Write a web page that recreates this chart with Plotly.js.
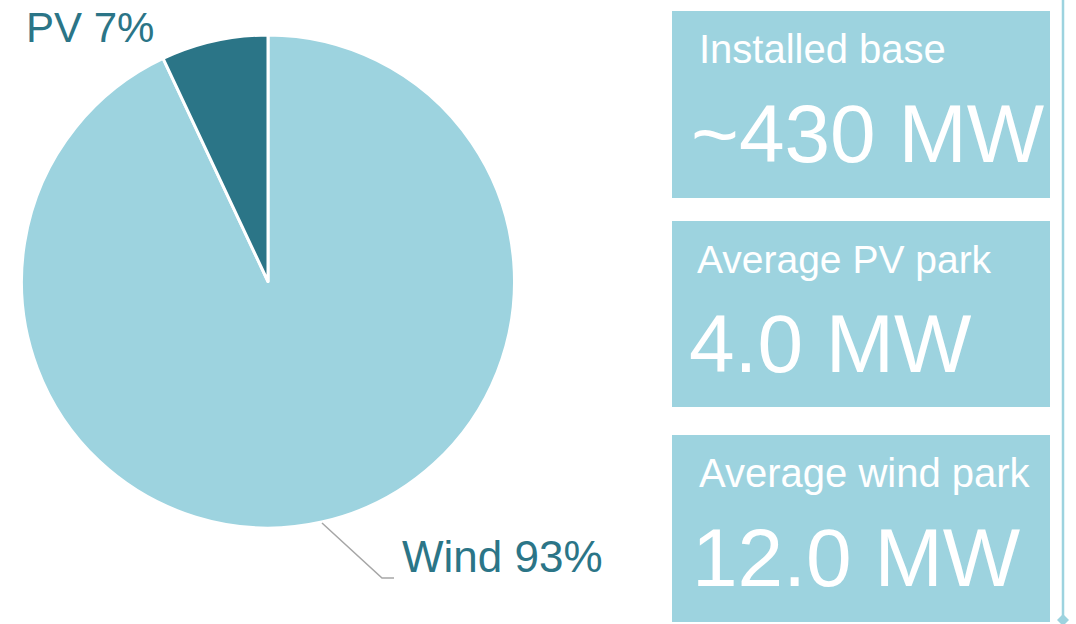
<!DOCTYPE html>
<html>
<head>
<meta charset="utf-8">
<script src="https://cdn.plot.ly/plotly-3.0.1.min.js"></script>
<style>html,body{margin:0;padding:0;background:#fff;}#chart{width:1076px;height:624px;}</style>
</head>
<body>
<div id="chart"></div>
<script>
// Data
var sliceLabels = ["Wind", "PV"];
var sliceValues = [93, 7];
var sliceColors = ["#9DD3DF", "#2B7587"];
var kpiTitles = ["Installed base", "Average PV park", "Average wind park"];
var kpiValues = ["~430 MW", "4.0 MW", "12.0 MW"];

var W = 1076, H = 624;
function px(x){ return x / W; }
function py(y){ return 1 - y / H; }

var FONT = "Liberation Sans, Arial, sans-serif";
var LIGHT = "#9DD3DF";
var DARK = "#2B7587";

var pie = {
  type: "pie",
  labels: sliceLabels,
  values: sliceValues,
  sort: false,
  direction: "clockwise",
  rotation: 0,
  textinfo: "none",
  hoverinfo: "label+percent",
  marker: { colors: sliceColors, line: { color: "#ffffff", width: 3 } },
  domain: { x: [px(21), px(515)], y: [py(528), py(35)] },
  showlegend: false
};

var shapes = [];
var annotations = [];

// slice labels
annotations.push({
  xref: "paper", yref: "paper", x: px(24), y: py(28), xanchor: "left", yanchor: "middle",
  text: sliceLabels[1] + " " + sliceValues[1] + "%", showarrow: false,
  font: { family: FONT, size: 42, color: DARK }
});
annotations.push({
  xref: "paper", yref: "paper", x: px(400), y: py(556), xanchor: "left", yanchor: "middle",
  text: sliceLabels[0] + " " + sliceValues[0] + "%", showarrow: false,
  font: { family: FONT, size: 44, color: DARK }
});
// leader line
shapes.push({
  type: "path", xref: "paper", yref: "paper",
  path: "M " + px(322) + "," + py(523) + " L " + px(382) + "," + py(578) + " L " + px(394) + "," + py(578),
  line: { color: "#A6A6A6", width: 1.5 }
});

// KPI boxes
var boxTops = [11, 221, 435];
var boxBottoms = [198, 407, 622];
var titleX = [697, 695, 697];
var valueX = [689, 687, 690];
var titleSize = [40, 39, 40];
for (var i = 0; i < kpiTitles.length; i++) {
  shapes.push({
    type: "rect", xref: "paper", yref: "paper",
    x0: px(672), x1: px(1050), y0: py(boxBottoms[i]), y1: py(boxTops[i]),
    fillcolor: LIGHT, line: { width: 0 }, layer: "below"
  });
  annotations.push({
    xref: "paper", yref: "paper", x: px(titleX[i]), y: py(boxTops[i] + 38), xanchor: "left", yanchor: "middle",
    text: kpiTitles[i], showarrow: false,
    font: { family: FONT, size: titleSize[i], color: "#ffffff" }
  });
  annotations.push({
    xref: "paper", yref: "paper", x: px(valueX[i]), y: py(boxTops[i] + 122), xanchor: "left", yanchor: "middle",
    text: kpiValues[i], showarrow: false,
    font: { family: FONT, size: 82, color: "#ffffff" }
  });
}

// vertical divider with diamond
shapes.push({
  type: "line", xref: "paper", yref: "paper",
  x0: px(1063), x1: px(1063), y0: py(0), y1: py(617),
  line: { color: LIGHT, width: 2.5 }
});
shapes.push({
  type: "path", xref: "paper", yref: "paper",
  path: "M " + px(1063) + "," + py(614) + " L " + px(1069) + "," + py(620) + " L " + px(1063) + "," + py(626) + " L " + px(1057) + "," + py(620) + " Z",
  fillcolor: LIGHT, line: { width: 0 }
});

var layout = {
  width: W, height: H,
  margin: { l: 0, r: 0, t: 0, b: 0 },
  paper_bgcolor: "#ffffff",
  plot_bgcolor: "#ffffff",
  shapes: shapes,
  annotations: annotations,
  font: { family: FONT }
};

Plotly.newPlot("chart", [pie], layout, { displayModeBar: false, staticPlot: true });
</script>
</body>
</html>
